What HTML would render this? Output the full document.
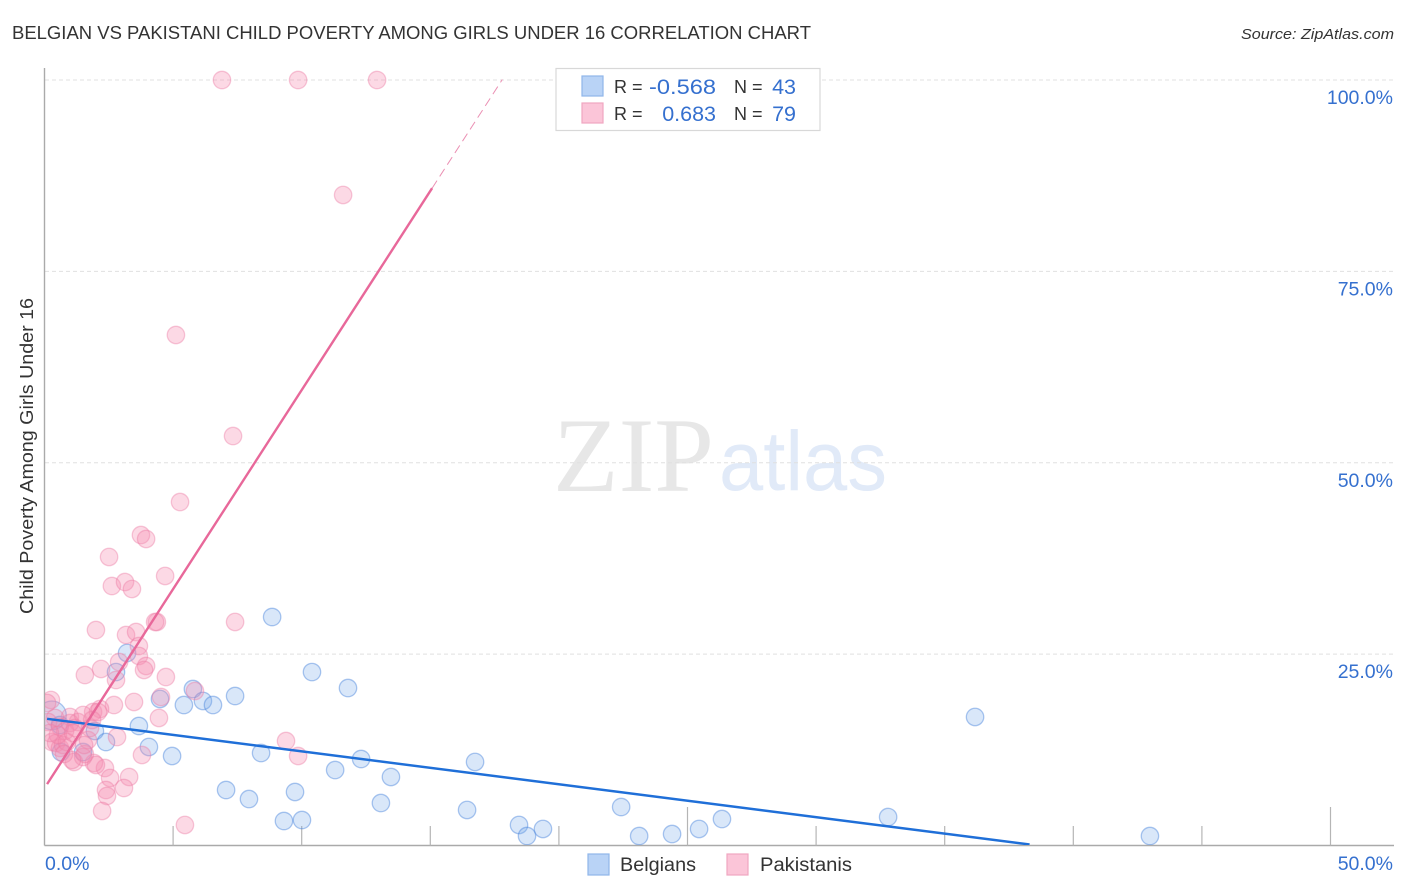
<!DOCTYPE html>
<html lang="en">
<head>
<meta charset="utf-8">
<title>Belgian vs Pakistani Child Poverty Among Girls Under 16 Correlation Chart</title>
<style>
  html, body { margin: 0; padding: 0; background: #fff; }
  body { width: 1406px; height: 892px; overflow: hidden; }
  svg { display: block; font-family: "Liberation Sans", sans-serif; }
</style>
</head>
<body>
<svg id="chart" xmlns="http://www.w3.org/2000/svg" width="1406" height="892" viewBox="0 0 1406 892">
  <defs>
    <clipPath id="plot-clip"><rect x="45" y="60" width="1349" height="785"></rect></clipPath>
  </defs>
  <rect x="0" y="0" width="1406" height="892" fill="#ffffff"></rect>

  <g>
    <text x="553" y="491" font-family="'Liberation Serif', serif" font-size="106" fill="#e7e7e7" textLength="161" lengthAdjust="spacingAndGlyphs">ZIP</text>
    <text x="719" y="490" font-size="84" fill="#e1eaf8" textLength="168" lengthAdjust="spacingAndGlyphs">atlas</text>
  </g>

  <g id="grid"></g>
  <g id="axes"></g>
  <g id="points" clip-path="url(#plot-clip)"></g>
  <g id="lines" clip-path="url(#plot-clip)"></g>
  <g id="tick-labels"></g>

  <text x="12" y="39" font-size="18.5" fill="#333333" textLength="799" lengthAdjust="spacingAndGlyphs">BELGIAN VS PAKISTANI CHILD POVERTY AMONG GIRLS UNDER 16 CORRELATION CHART</text>
  <text x="1241" y="39" font-size="15" font-style="italic" fill="#333333" textLength="153" lengthAdjust="spacingAndGlyphs">Source: ZipAtlas.com</text>
  <text transform="translate(33,614) rotate(-90)" font-size="18" fill="#333333" textLength="316" lengthAdjust="spacingAndGlyphs">Child Poverty Among Girls Under 16</text>

  <g>
    <rect x="556" y="68.5" width="264" height="62" fill="#ffffff" stroke="#d8d8d8" stroke-width="1.2"></rect>
    <rect x="582" y="76" width="21" height="20" fill="#b9d3f6" stroke="#8fb6ea" stroke-width="1.2"></rect>
    <rect x="582" y="103" width="21" height="20" fill="#fbc5d8" stroke="#f0a6c0" stroke-width="1.2"></rect>
    <text x="614" y="93" font-size="18" fill="#333333">R =</text>
    <text x="716" y="94" font-size="21.5" fill="#3570cf" text-anchor="end" textLength="67" lengthAdjust="spacingAndGlyphs">-0.568</text>
    <text x="734" y="93" font-size="18" fill="#333333">N =</text>
    <text x="796" y="94" font-size="21.5" fill="#3570cf" text-anchor="end">43</text>
    <text x="614" y="120" font-size="18" fill="#333333">R =</text>
    <text x="716" y="121" font-size="21.5" fill="#3570cf" text-anchor="end">0.683</text>
    <text x="734" y="120" font-size="18" fill="#333333">N =</text>
    <text x="796" y="121" font-size="21.5" fill="#3570cf" text-anchor="end">79</text>
  </g>

  <g>
    <g>
      <rect x="588" y="854" width="21" height="21" fill="#b9d3f6" stroke="#8fb6ea" stroke-width="1.2"></rect>
      <text x="620" y="871" font-size="19" fill="#333333" textLength="76" lengthAdjust="spacingAndGlyphs">Belgians</text>
    </g>
    <g>
      <rect x="727" y="854" width="21" height="21" fill="#fbc5d8" stroke="#f0a6c0" stroke-width="1.2"></rect>
      <text x="760" y="871" font-size="19" fill="#333333" textLength="92" lengthAdjust="spacingAndGlyphs">Pakistanis</text>
    </g>
  </g>
</svg>

<script>
// ---- chart data (percent units) ----
const yTickValues = [25, 50, 75, 100];
const yTickLabels = ["25.0%", "50.0%", "75.0%", "100.0%"];
const xTickValues = [0, 5, 10, 15, 20, 25, 30, 35, 40, 45, 50];
const xMajorTicks = [25, 50];
const xEndLabels = ["0.0%", "50.0%"];

const belgianX = [8.85,10.40,11.80,7.41,5.77,6.16,6.55,5.42,4.49,3.21,2.78,3.67,1.96,2.39,4.06,4.96,8.42,11.30,12.31,13.47,13.08,7.06,7.95,9.74,9.31,10.01,16.74,16.43,18.45,18.76,19.38,22.42,23.12,24.40,25.45,26.34,32.80,36.18,42.98,1.50,0.64,0.29,0.60];
const belgianY = [29.85,22.66,20.57,19.53,20.44,18.88,18.35,18.35,19.14,25.15,22.66,15.61,14.96,13.52,12.87,11.69,12.08,9.86,11.30,8.95,5.55,7.25,6.07,6.99,3.20,3.33,10.91,4.64,2.68,1.24,2.16,5.03,1.24,1.50,2.16,3.46,3.72,16.79,1.24,12.21,12.21,17.00,15.74];
// relative marker weight; a value of 1 is used for any point not listed
const belgianWeight = { 41: 1.65 };

const pakistaniX = [6.90,9.86,12.93,11.61,5.11,7.33,5.27,3.75,3.95,2.51,2.62,3.13,3.40,4.69,4.37,4.30,7.41,2.00,3.17,3.56,3.67,3.67,3.95,3.87,2.90,2.20,1.57,2.78,4.72,2.70,3.48,4.53,4.45,5.85,1.89,2.16,2.08,0.25,0.10,0.99,1.30,2.82,3.79,9.39,9.86,5.46,2.35,2.55,3.29,3.09,2.39,2.43,2.24,1.92,2.00,1.15,1.50,1.57,0.41,0.14,0.60,0.80,0.99,1.19,0.29,0.45,0.60,0.72,0.87,0.52,0.21,1.11,1.69,0.76,1.07,1.54,1.77,1.85,1.50];
const pakistaniY = [100,100,100,84.98,66.69,53.49,44.87,40.56,40.04,37.69,33.90,34.42,33.51,35.21,29.20,29.20,29.20,28.15,27.50,27.89,26.06,24.76,23.45,22.93,23.97,23.06,22.27,21.62,22.01,18.35,18.75,19.40,16.66,20.18,17.44,17.83,17.44,19.01,18.62,16.79,16.13,14.17,11.82,13.65,11.69,2.68,10.12,8.82,8.95,7.51,7.25,6.47,4.51,10.78,10.52,10.91,11.56,11.95,16.66,16.13,15.48,14.96,16.00,15.35,13.52,13.39,12.74,13.13,13.52,14.44,14.70,14.70,13.78,11.95,11.17,13.13,15.35,16.39,17.05];

const belgianTrend = { intercept: 16.6, slope: -0.43, start: 0.1, end: 38.3 };
const pakistaniTrend = { intercept: 7.5, slope: 5.2, start: 0.1, solidEnd: 15.07, dashedEnd: 17.8 };

// ---- axis functions ----
const X0 = 44.5, X50 = 1330.5, Y0 = 845.5, Y100 = 80;
function xScale(v) { return X0 + (v / 50) * (X50 - X0); }
function yScale(v) { return Y0 - (v / 100) * (Y0 - Y100); }

const NS = "http://www.w3.org/2000/svg";
function make(tag, parent, attrs, text) {
  const el = document.createElementNS(NS, tag);
  for (const k in attrs) el.setAttribute(k, attrs[k]);
  if (text !== undefined) el.textContent = text;
  parent.appendChild(el);
  return el;
}
const grid = document.getElementById("grid");
const axes = document.getElementById("axes");
const pts = document.getElementById("points");
const lines = document.getElementById("lines");
const labels = document.getElementById("tick-labels");

// gridlines + y tick labels
yTickValues.forEach(function (v, i) {
  const g = make("line", grid, { x1: 45, x2: 1394, y1: yScale(v), y2: yScale(v), stroke: "#e0e0e0", "stroke-width": 1, "stroke-dasharray": "4 3" });
  
  
  const t = make("text", labels, { x: 1393, y: yScale(v) + 24, "text-anchor": "end", "font-size": 19.5, fill: "#3570cf" }, yTickLabels[i]);
  
  
});

// axes
const yAxis = make("line", axes, { x1: X0, x2: X0, y1: 68, y2: 845.5, stroke: "#aaaaaa", "stroke-width": 1.4 });


const xAxis = make("line", axes, { x1: X0, x2: 1394, y1: 845.5, y2: 845.5, stroke: "#aaaaaa", "stroke-width": 1.4 });


xTickValues.forEach(function (v) {
  if (v === 0) return;
  const major = xMajorTicks.indexOf(v) >= 0;
  const tick = make("line", axes, { x1: xScale(v), x2: xScale(v), y1: major ? 807 : 826, y2: 845.5, stroke: "#b5b5b5", "stroke-width": 1.2 });
  
  
});
const xStart = make("text", labels, { x: 45, y: 870, "font-size": 19.5, fill: "#3570cf" }, xEndLabels[0]);


const xEnd = make("text", labels, { x: 1393, y: 870, "text-anchor": "end", "font-size": 19.5, fill: "#3570cf" }, xEndLabels[1]);



// points
belgianX.forEach(function (v, i) {
  const c = make("circle", pts, { cx: xScale(v), cy: yScale(belgianY[i]), r: 8.7 * (belgianWeight[i] || 1), fill: "rgba(120,170,235,0.28)", stroke: "rgba(70,130,220,0.45)", "stroke-width": 1.3 });
  
  
});
pakistaniX.forEach(function (v, i) {
  const c = make("circle", pts, { cx: xScale(v), cy: yScale(pakistaniY[i]), r: 8.7, fill: "rgba(245,140,175,0.33)", stroke: "rgba(235,125,165,0.42)", "stroke-width": 1.3 });
  
  
});

// trend lines
function trendY(t, x) { return t.intercept + t.slope * x; }
const bl = make("line", lines, { x1: xScale(belgianTrend.start), y1: yScale(trendY(belgianTrend, belgianTrend.start)), x2: xScale(belgianTrend.end), y2: yScale(trendY(belgianTrend, belgianTrend.end)), stroke: "#1f6fd8", "stroke-width": 2.4 });


const pl = make("line", lines, { x1: xScale(pakistaniTrend.start), y1: yScale(trendY(pakistaniTrend, pakistaniTrend.start)), x2: xScale(pakistaniTrend.solidEnd), y2: yScale(trendY(pakistaniTrend, pakistaniTrend.solidEnd)), stroke: "#e8689a", "stroke-width": 2.4 });


const pd = make("line", lines, { x1: xScale(pakistaniTrend.solidEnd), y1: yScale(trendY(pakistaniTrend, pakistaniTrend.solidEnd)), x2: xScale(pakistaniTrend.dashedEnd), y2: yScale(trendY(pakistaniTrend, pakistaniTrend.dashedEnd)), stroke: "#eb8fb3", "stroke-width": 1, "stroke-dasharray": "9 5" });


</script>
</body>
</html>
